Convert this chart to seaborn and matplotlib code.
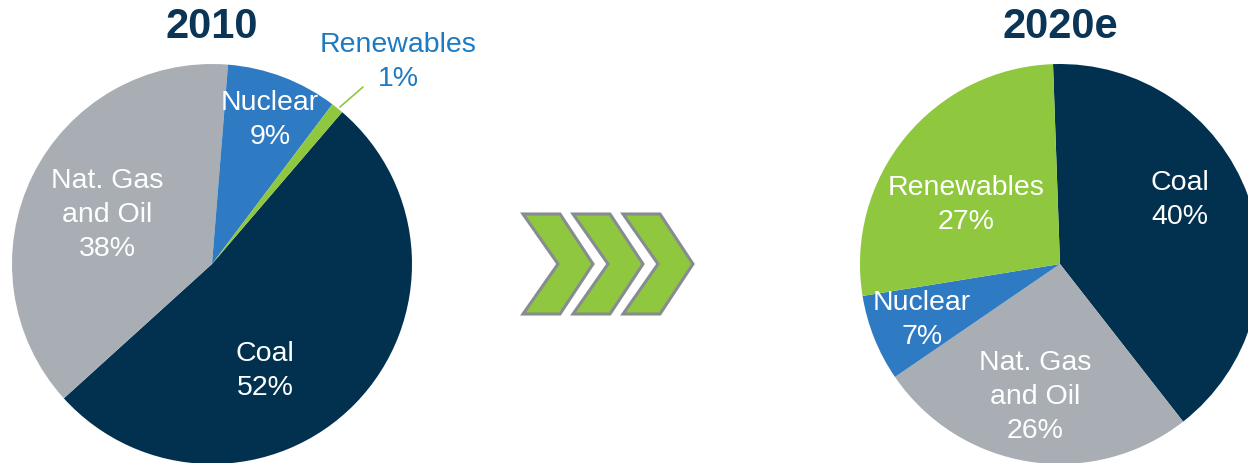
#!/usr/bin/env python3
"""Power generation mix, 2010 vs 2020e, as two pies."""

import seaborn as sns
import matplotlib.pyplot as plt
from matplotlib.patches import Polygon

CATEGORIES = ["Coal", "Nat. Gas\nand Oil", "Nuclear", "Renewables"]
SHARE_2010 = [52, 38, 9, 1]
SHARE_2020 = [40, 26, 7, 27]
TITLES = ["2010", "2020e"]

COLORS = ["#02314F", "#A9ADB4", "#2F7BC3", "#8FC73E"]
NAVY = "#0B3556"
LABEL_BLUE = "#1C7BC2"

sns.set_theme(style="white")
plt.rcParams["font.family"] = ["Liberation Sans", "DejaVu Sans"]

W, H = 1248, 464
fig = plt.figure(figsize=(W / 100, H / 100), dpi=100)


def px_axes(left, top, size):
    """Axes in figure pixel coords (origin top-left)."""
    return fig.add_axes([left / W, (H - top - size) / H, size / W, size / H])


def draw_pie(ax, values, startangle, label_pos):
    ax.pie(values, colors=COLORS, startangle=startangle, counterclock=False,
           radius=1, wedgeprops={"linewidth": 0})
    ax.set_xlim(-1, 1)
    ax.set_ylim(-1, 1)
    ax.set_aspect("equal")
    ax.axis("off")
    for cat, val, (x, y) in zip(CATEGORIES, values, label_pos):
        if (x, y) == (None, None):
            continue
        ax.text(x, y, f"{cat}\n{val}%", ha="center", va="center", color="white",
                fontsize=20.5, linespacing=1.38, clip_on=False)


# 2010 pie
ax1 = px_axes(12, 65, 400)
draw_pie(ax1, SHARE_2010, 49.4,
         [(0.265, -0.53), (-0.525, 0.25), (0.29, 0.725), (None, None)])
ax1.text(0.93, 1.015, f"{CATEGORIES[3]}\n{SHARE_2010[3]}%", ha="center", va="center",
         color=LABEL_BLUE, fontsize=20.5, linespacing=1.38, clip_on=False)
ax1.plot([0.64, 0.755], [0.785, 0.885], color=COLORS[3], lw=1.2, clip_on=False)

# 2020e pie
ax2 = px_axes(860, 65, 400)
draw_pie(ax2, SHARE_2020, 92,
         [(0.6, 0.325), (-0.125, -0.66), (-0.69, -0.275), (-0.47, 0.3)])

for title, cx in zip(TITLES, [212, 1060]):
    fig.text(cx / W, 1 - 27 / H, title, ha="center", va="center",
             fontsize=30, fontweight="bold", color=NAVY)

# chevron arrows between the pies
deco = fig.add_axes([0, 0, 1, 1], zorder=-1)
deco.set_xlim(0, W)
deco.set_ylim(H, 0)
deco.axis("off")
for x0 in [523, 573, 623]:
    pts = [(x0, 215), (x0 + 37, 215), (x0 + 70, 265), (x0 + 37, 315),
           (x0, 315), (x0 + 35, 265)]
    deco.add_patch(Polygon(pts, closed=True, facecolor="#8FC73E",
                           edgecolor="#878C93", lw=2.2, joinstyle="miter"))

fig.savefig("out.png", dpi=100)
